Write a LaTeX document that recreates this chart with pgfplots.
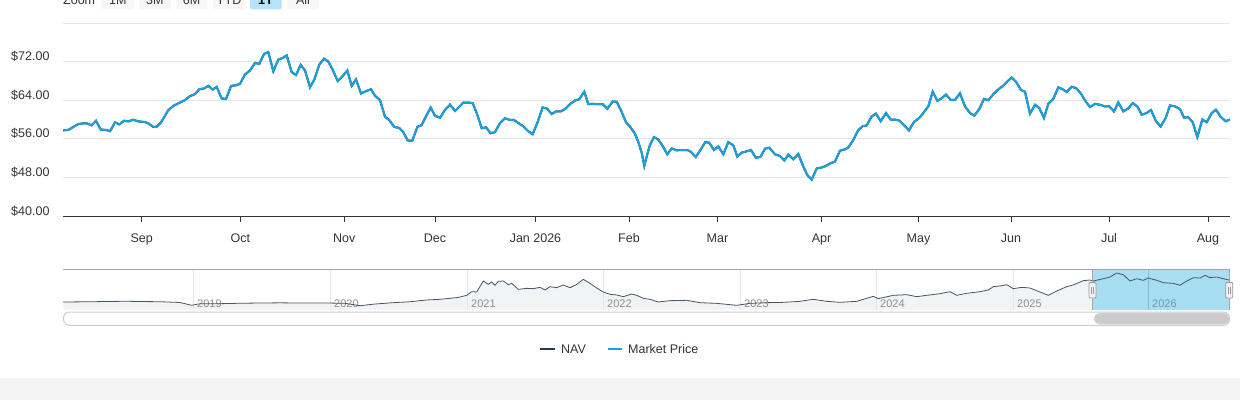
\documentclass[border=0pt]{standalone}
\usepackage{fontspec}
\setmainfont{Liberation Sans}
\usepackage{pgfplots}
\usepackage{pgfplotstable}
\pgfplotsset{compat=1.18}

\definecolor{mpblue}{HTML}{1AA0DA}
\definecolor{navdark}{HTML}{2B3A4A}
\definecolor{gridgray}{HTML}{E6E6E6}
\definecolor{axisdark}{HTML}{333333}
\definecolor{labeldark}{HTML}{333333}
\definecolor{navline}{HTML}{455666}
\definecolor{navarea}{HTML}{F2F3F5}
\definecolor{navsel}{RGB}{149,216,241}
\definecolor{navborder}{HTML}{A6A6A6}
\definecolor{yeargray}{HTML}{8F8F8F}
\definecolor{yearsel}{HTML}{6F97B5}
\definecolor{handlefill}{HTML}{F2F2F2}
\definecolor{handleborder}{HTML}{999999}
\definecolor{trackborder}{HTML}{CCCCCC}
\definecolor{thumb}{HTML}{CCCCCC}
\definecolor{band}{HTML}{F4F4F4}
\definecolor{btn}{HTML}{F7F7F7}
\definecolor{btnsel}{HTML}{B5E3F7}

\pgfplotstableread{
x y
63 57.70
64.0 57.77
68.3 57.84
73.3 58.45
78.3 59.06
83.3 59.20
86.7 59.20
91.7 58.79
96.0 59.74
100.7 57.91
106.0 57.84
110.0 57.56
115.0 59.40
119.3 58.99
124.0 59.74
128.3 59.61
133.3 59.95
138.3 59.61
145.0 59.47
148.3 59.20
153.3 58.45
156.7 58.52
161.0 59.40
165.0 60.77
168.3 61.92
173.3 62.81
178.3 63.35
185.0 64.03
190.0 64.85
195.0 65.26
199.3 66.28
204.0 66.42
208.3 66.96
212.7 66.21
216.7 66.76
221.7 64.37
226.0 64.24
231.0 66.96
236.0 67.10
240.0 67.37
245.0 69.34
250.0 70.16
255.0 71.73
259.3 71.52
264.0 73.57
268.3 73.97
273.3 70.02
278.3 72.41
282.7 72.75
286.7 73.29
291.7 69.82
296.0 69.21
300.7 71.32
305.0 70.16
310.0 66.69
314.3 68.26
319.3 71.39
324.0 72.61
328.3 72.00
332.7 70.30
337.7 67.98
342.7 69.00
347.3 70.16
351.7 66.96
356.0 68.32
361.0 65.40
366.0 65.87
371.0 66.28
375.0 64.92
380.0 64.03
385.0 60.56
389.3 59.88
394.3 58.45
399.3 58.25
403.3 57.36
407.7 55.66
412.3 55.59
417.3 58.45
421.7 58.86
426.0 60.63
430.7 62.47
435.0 60.77
440.0 60.36
445.0 61.99
450.0 63.08
455.0 61.79
458.3 62.43
463.3 63.52
468.3 63.52
472.7 63.38
476.7 61.33
481.7 58.19
486.0 58.39
490.7 57.16
495.0 57.37
500.0 59.28
505.0 60.24
510.0 59.90
514.0 59.90
518.3 59.28
523.3 58.60
528.3 57.57
532.7 56.96
537.3 59.28
542.7 62.50
547.3 62.22
551.7 61.13
556.0 61.68
560.7 61.68
565.0 62.15
570.0 63.18
575.0 63.93
579.3 64.21
584.3 65.78
588.3 63.18
592.7 63.25
596.7 63.18
602.7 63.18
607.3 62.22
612.7 63.73
616.7 63.66
620.7 62.02
626.0 59.42
630.0 58.53
635.0 57.03
638.3 55.32
641.7 53.13
644.3 50.39
647.3 52.79
650.0 54.77
654.0 56.34
658.3 55.86
662.7 54.50
667.3 52.79
671.7 54.02
676.7 53.61
681.7 53.67
687.3 53.67
690.7 53.33
695.7 52.24
700.0 53.54
705.3 55.32
709.3 55.18
714.0 53.67
718.3 54.43
723.3 52.79
728.3 55.32
733.3 54.63
737.3 52.31
741.7 53.13
746.7 53.40
751.0 53.67
756.0 52.03
760.7 52.31
765.0 53.95
769.3 54.15
775.0 52.79
780.0 52.44
784.3 51.49
788.3 52.72
793.3 51.76
798.3 52.85
803.3 50.26
807.3 48.48
811.7 47.52
816.7 49.85
821.7 50.05
826.0 50.39
830.0 50.87
835.0 51.28
840.0 53.54
845.0 53.81
848.3 54.19
853.3 55.76
858.3 57.80
862.7 58.62
866.7 58.76
871.7 60.66
876.0 61.21
880.7 59.64
886.0 61.34
890.7 59.98
895.0 59.98
899.3 59.78
904.0 58.83
909.0 57.74
914.0 59.51
919.3 60.32
923.3 61.34
928.3 62.71
932.7 65.77
937.3 63.86
941.7 64.41
946.0 65.16
950.7 64.07
955.0 64.07
960.0 65.43
965.0 62.71
970.0 61.34
974.3 60.80
979.3 62.16
984.0 64.27
988.3 64.00
993.3 65.23
998.3 66.25
1003.3 67.00
1007.3 67.88
1011.7 68.70
1016.0 67.81
1021.0 66.11
1025.0 65.77
1030.0 61.21
1035.0 63.05
1039.3 62.37
1044.0 60.32
1048.3 63.25
1053.3 64.27
1058.3 66.66
1062.7 66.25
1066.7 65.70
1071.7 66.79
1076.0 66.52
1080.7 65.43
1085.7 63.73
1090.0 62.57
1095.0 63.25
1100.0 63.05
1105.0 62.71
1109.3 62.71
1114.0 61.68
1118.3 63.52
1123.3 61.68
1128.3 62.30
1132.7 63.39
1137.3 62.71
1141.7 61.00
1146.7 61.34
1151.0 61.96
1156.0 59.64
1160.7 58.55
1165.7 60.32
1170.0 62.91
1175.0 62.71
1180.0 62.16
1184.0 60.39
1188.3 60.46
1192.7 59.44
1197.3 56.37
1202.3 59.98
1206.7 59.44
1211.7 61.34
1216.0 62.03
1220.7 60.53
1225.7 59.64
1230.0 59.98
}\pricedata

\pgfplotstableread{
x y
63 16.0
78 16.3
93.3 16.6
110 17.2
126.7 17.5
145 16.9
160 16.6
180 15.0
191.7 9.1
200 12.5
220 12.5
240 13.4
260 13.9
280 14.3
300 13.9
326.7 13.9
345 13.3
360 8.3
375 11.8
393.3 14.6
410 16.5
426.7 20.2
440 21.6
450 23.7
458 25.4
466.7 29.9
471.7 37.5
476.7 36.8
483.3 59.7
488.3 52.7
491.7 57.6
495 50.7
498.3 59.0
503.3 59.7
508.3 52.0
511.7 54.8
518.3 42.3
526.7 44.4
533.3 43.7
540 46.5
545 41.0
550 47.9
556.7 45.8
563.3 51.4
570 45.8
576.7 52.7
583.3 63.1
590 54.8
596.7 45.1
603.3 36.8
610 32.0
616.7 30.6
623.3 27.1
631.7 32.6
636.7 29.9
643.3 23.6
650 21.6
658.3 16.0
670 18.8
686.7 19.5
700 14.6
716.7 13.2
736.7 9.1
750 13.2
766.7 14.6
783.3 15.3
800 17.4
813.3 21.6
826.7 17.4
840 15.3
856.7 17.4
873.3 27.8
878.3 22.9
893.3 29.9
906.7 31.2
916.7 27.1
926.7 29.9
940 33.3
950 37.5
956.7 29.9
966.7 34.0
980 37.5
988.3 41.0
993.3 47.9
1000 49.3
1006.7 52.0
1013.3 43.7
1021.7 46.5
1030 45.1
1040 36.8
1048.3 29.9
1056.7 38.9
1066.7 47.9
1073.3 51.4
1083.3 60.4
1090 61.7
1093.3 59.7
1103.3 64.5
1110 68.0
1116.7 76.3
1123.3 72.8
1130 59.7
1136.7 64.5
1143.3 61.1
1148.3 65.9
1156.7 61.1
1163.3 56.2
1173.3 54.8
1180 50.7
1185 57.6
1193.3 66.6
1200 65.9
1205 71.5
1210 66.6
1216.7 68.0
1223.3 64.5
1230 61.1
}\navdata

\begin{document}
\begin{tikzpicture}[x=1pt,y=1pt]
\fill[white] (0,0) rectangle (1240,400);
\fill[band] (0,0) rectangle (1240,22);

% zoom buttons (partly above the top edge, as in the reference)
\begin{scope}[overlay]
\node[anchor=base west, inner sep=0, text=labeldark, font=\fontsize{12.5}{15}\selectfont] at (63,395.5) {Zoom};
\foreach \xa/\xb/\t in {101.7/134/1M, 139/170.7/3M, 176/207.3/6M, 213.3/244.3/YTD, 287.3/318.7/All}{
  \fill[btn, rounded corners=2pt] (\xa,390.7) rectangle (\xb,415);
  \node[anchor=base, inner sep=0, text=labeldark, font=\fontsize{12.5}{15}\selectfont] at ({(\xa+\xb)/2},395.5) {\t};
}
\fill[btnsel, rounded corners=2pt] (250,390.7) rectangle (281.7,415);
\node[anchor=base, inner sep=0, text=black, font=\fontsize{12.5}{15}\selectfont\bfseries] at (265.85,395.5) {1Y};
\end{scope}

% main chart
\begin{axis}[
  at={(63pt,184pt)}, anchor=south west, scale only axis,
  width=1167pt, height=193pt,
  xmin=63, xmax=1230, ymin=40, ymax=80,
  axis x line*=bottom, axis y line*=left,
  y axis line style={draw=none},
  x axis line style={draw=axisdark, line width=1pt, -},
  xtick={141.7,240.3,344.3,435,535.5,629,717.5,821.5,918.5,1011,1109,1208},
  xticklabels={Sep,Oct,Nov,Dec,Jan 2026,Feb,Mar,Apr,May,Jun,Jul,Aug},
  xtick align=outside,
  major tick length=6pt,
  xtick style={draw=axisdark, line width=1pt},
  ytick={40,48,56,64,72,80},
  yticklabels={\$40.00,\$48.00,\$56.00,\$64.00,\$72.00,},
  ytick style={draw=none},
  ymajorgrids,
  major grid style={draw=gridgray, line width=1pt},
  tick label style={font=\fontsize{12.5}{15}\selectfont, text=labeldark},
  yticklabel style={xshift=-10pt, yshift=5pt},
  xticklabel style={yshift=-8pt},
]
\addplot[navdark, line width=2pt] table[x=x,y=y] {\pricedata};
\addplot[mpblue, line width=2pt] table[x=x,y=y] {\pricedata};
\end{axis}

% navigator
\begin{axis}[
  at={(63pt,90.3pt)}, anchor=south west, scale only axis,
  width=1167pt, height=40.4pt,
  xmin=63, xmax=1230, ymin=0, ymax=84,
  hide axis,
]
\addplot[fill=navarea, draw=none] table[x=x,y=y] {\navdata} \closedcycle;
\draw[gridgray, line width=1pt] (axis cs:193,0) -- (axis cs:193,84);
\draw[gridgray, line width=1pt] (axis cs:330,0) -- (axis cs:330,84);
\draw[gridgray, line width=1pt] (axis cs:467,0) -- (axis cs:467,84);
\draw[gridgray, line width=1pt] (axis cs:603,0) -- (axis cs:603,84);
\draw[gridgray, line width=1pt] (axis cs:740,0) -- (axis cs:740,84);
\draw[gridgray, line width=1pt] (axis cs:876,0) -- (axis cs:876,84);
\draw[gridgray, line width=1pt] (axis cs:1013,0) -- (axis cs:1013,84);
\node[anchor=base west, inner sep=0, text=yeargray, font=\fontsize{11}{13}\selectfont] at (axis cs:197,5.6) {2019};
\node[anchor=base west, inner sep=0, text=yeargray, font=\fontsize{11}{13}\selectfont] at (axis cs:334,5.6) {2020};
\node[anchor=base west, inner sep=0, text=yeargray, font=\fontsize{11}{13}\selectfont] at (axis cs:471,5.6) {2021};
\node[anchor=base west, inner sep=0, text=yeargray, font=\fontsize{11}{13}\selectfont] at (axis cs:607,5.6) {2022};
\node[anchor=base west, inner sep=0, text=yeargray, font=\fontsize{11}{13}\selectfont] at (axis cs:744,5.6) {2023};
\node[anchor=base west, inner sep=0, text=yeargray, font=\fontsize{11}{13}\selectfont] at (axis cs:880,5.6) {2024};
\node[anchor=base west, inner sep=0, text=yeargray, font=\fontsize{11}{13}\selectfont] at (axis cs:1017,5.6) {2025};
\fill[navsel, opacity=0.8] (axis cs:1092.3,0) rectangle (axis cs:1229.3,84);
\draw[yearsel!45!navsel, line width=1pt] (axis cs:1148.3,0) -- (axis cs:1148.3,84);
\node[anchor=base west, inner sep=0, text=yearsel, font=\fontsize{11}{13}\selectfont] at (axis cs:1152,5.6) {2026};
\addplot[navline, line width=0.8pt] table[x=x,y=y] {\navdata};
\end{axis}

% navigator frame
\draw[navborder, line width=1pt] (63,130.7) -- (1230,130.7);
\draw[navborder, line width=1pt] (1092.3,130.7) -- (1092.3,90.3);
\draw[navborder, line width=1pt] (1229.3,130.7) -- (1229.3,90.3);
% handles
\filldraw[fill=handlefill, draw=handleborder, line width=0.8pt, rounded corners=1pt] (1089,102) rectangle (1096,117.5);
\draw[handleborder, line width=0.7pt] (1091.8,106) -- (1091.8,113.5) (1093.3,106) -- (1093.3,113.5);
\filldraw[fill=handlefill, draw=handleborder, line width=0.8pt, rounded corners=1pt] (1225.8,102) rectangle (1232.8,117.5);
\draw[handleborder, line width=0.7pt] (1228.6,106) -- (1228.6,113.5) (1230.1,106) -- (1230.1,113.5);

% scrollbar
\filldraw[fill=white, draw=trackborder, line width=1pt, rounded corners=6pt] (63.5,74.7) rectangle (1229.5,88);
\fill[thumb, rounded corners=5.5pt] (1094,75.7) rectangle (1229.3,87);

% legend
\draw[navdark, line width=2pt] (540,51) -- (555,51);
\node[anchor=base west, inner sep=0, text=labeldark, font=\fontsize{12.5}{15}\selectfont] at (561,46.5) {NAV};
\draw[mpblue, line width=2pt] (608,51) -- (622,51);
\node[anchor=base west, inner sep=0, text=labeldark, font=\fontsize{12.5}{15}\selectfont] at (628,46.5) {Market Price};

\path[use as bounding box] (0,0) rectangle (1240,400);
\end{tikzpicture}
\end{document}
